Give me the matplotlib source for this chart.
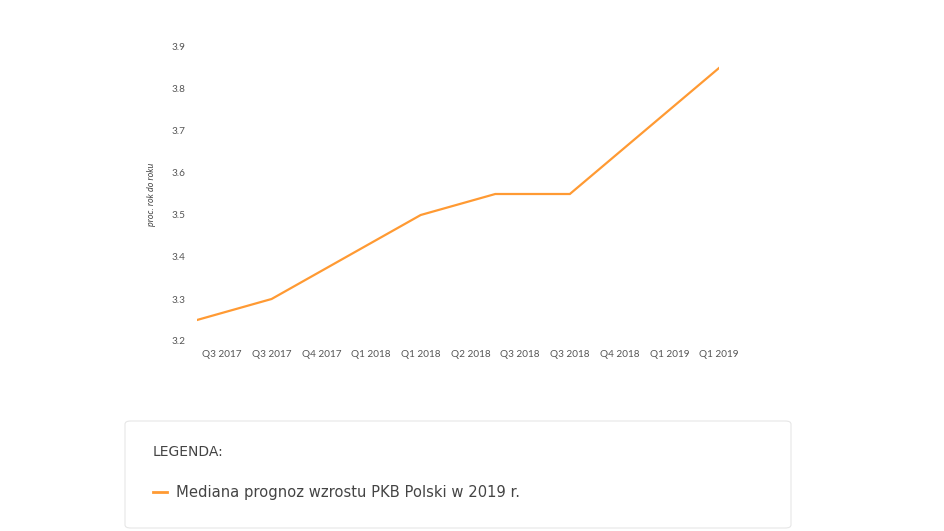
import matplotlib.pyplot as plt
from matplotlib.patches import FancyBboxPatch

# months counted from June 2017
survey_month = [0, 3, 6, 9, 12, 15, 18, 21]
gdp_forecast = [3.25, 3.30, 3.40, 3.50, 3.55, 3.55, 3.70, 3.85]

tick_month = [1, 3, 5, 7, 9, 11, 13, 15, 17, 19, 21]
tick_labels = ["Q3 2017", "Q3 2017", "Q4 2017", "Q1 2018", "Q1 2018", "Q2 2018",
               "Q3 2018", "Q3 2018", "Q4 2018", "Q1 2019", "Q1 2019"]
y_ticks = [3.2, 3.3, 3.4, 3.5, 3.6, 3.7, 3.8, 3.9]

series_name = "Mediana prognoz wzrostu PKB Polski w 2019 r."
orange = "#ff9a33"

plt.rcParams['font.family'] = ['Lato', 'DejaVu Sans']

W, H = 945, 531
fig = plt.figure(figsize=(W / 100, H / 100), dpi=100)

x0, x1 = 197, 719
y_top, y_bot = 47, 341
ax = fig.add_axes([x0 / W, 1 - y_bot / H, (x1 - x0) / W, (y_bot - y_top) / H])
ax.plot(survey_month, gdp_forecast, color=orange, lw=1.6, solid_joinstyle='miter')
ax.set_xlim(0, 21)
ax.set_ylim(3.2, 3.9)
ax.set_xticks(tick_month)
ax.set_xticklabels(tick_labels)
ax.set_yticks(y_ticks)
ax.set_yticklabels([f"{v:.1f}" for v in y_ticks])
ax.tick_params(length=0, labelsize=7.2, colors="#555555")
ax.tick_params(axis='y', pad=8.5)
ax.tick_params(axis='x', pad=6.5)
for s in ax.spines.values():
    s.set_visible(False)
ax.set_ylabel("proc. rok do roku", fontsize=6.5, style='italic', color="#444444", labelpad=11)

# legend box
box = FancyBboxPatch((125 / W, 1 - 528 / H), (791 - 125) / W, (528 - 421) / H,
                     boxstyle="round,pad=0,rounding_size=0.006",
                     transform=fig.transFigure, facecolor="white",
                     edgecolor="#e6e6e6", lw=0.8)
fig.patches.append(box)
fig.text(153 / W, 1 - 452 / H, "LEGENDA:", fontsize=10, color="#444444",
         family=['DejaVu Sans'], va='center')
fig.add_artist(plt.Line2D([153 / W, 167 / W], [1 - 492 / H, 1 - 492 / H],
                          transform=fig.transFigure, color=orange, lw=2))
fig.text(176 / W, 1 - 492 / H, series_name, fontsize=10.6, color="#444444",
         family=['DejaVu Sans'], va='center')

fig.savefig("out.png", dpi=100)
